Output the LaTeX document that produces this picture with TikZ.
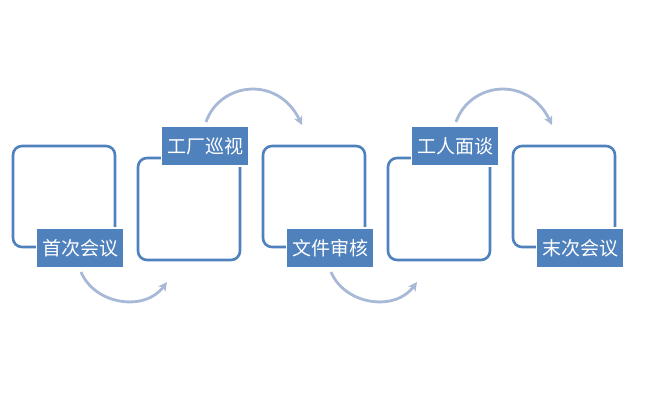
\documentclass[tikz,border=0pt]{standalone}
\usepackage{fontspec}
\setmainfont{Noto Sans CJK SC}
\usetikzlibrary{arrows.meta}
\definecolor{bl}{HTML}{4F81BD}
\definecolor{arc}{HTML}{A7B9D7}
\begin{document}
\begin{tikzpicture}[x=1pt,y=-1pt,
  sq/.style={draw=bl,line width=2.6pt,rounded corners=9pt,fill=white},
  lab/.style={fill=bl,draw=white,line width=1.2pt,text=white,minimum width=87pt,minimum height=40pt,inner sep=0pt,font=\fontsize{19}{19}\selectfont},
  ar/.style={draw=arc,line width=2.8pt,-{Stealth[length=9pt,width=9pt]}}]
\useasboundingbox (0,0) rectangle (650,400);
\foreach \i/\x in {1/13,3/263,5/513}{
  \draw[sq] (\x,146) rectangle ++(102,101);}
\foreach \i/\x in {2/138,4/388}{
  \draw[sq] (\x,158) rectangle ++(102,102);}
\node[lab] (a) at (80,248) {首次会议};
\node[lab] (b) at (205,146) {工厂巡视};
\node[lab] (c) at (330,248) {文件审核};
\node[lab] (d) at (455,146) {工人面谈};
\node[lab] (e) at (580,248) {末次会议};
\coordinate (a1) at (81,272); \coordinate (a2) at (167,282);
\coordinate (b1) at (206,122); \coordinate (b2) at (302,125);
\coordinate (c1) at (331,272); \coordinate (c2) at (417,282);
\coordinate (d1) at (456,122); \coordinate (d2) at (552,125);
\draw[ar] (a1) .. controls (95,305) and (145,312) .. (a2);
\draw[ar] (c1) .. controls (345,305) and (395,312) .. (c2);
\draw[ar] (b1) .. controls (220,82) and (278,75) .. (b2);
\draw[ar] (d1) .. controls (470,82) and (528,75) .. (d2);
\end{tikzpicture}
\end{document}
